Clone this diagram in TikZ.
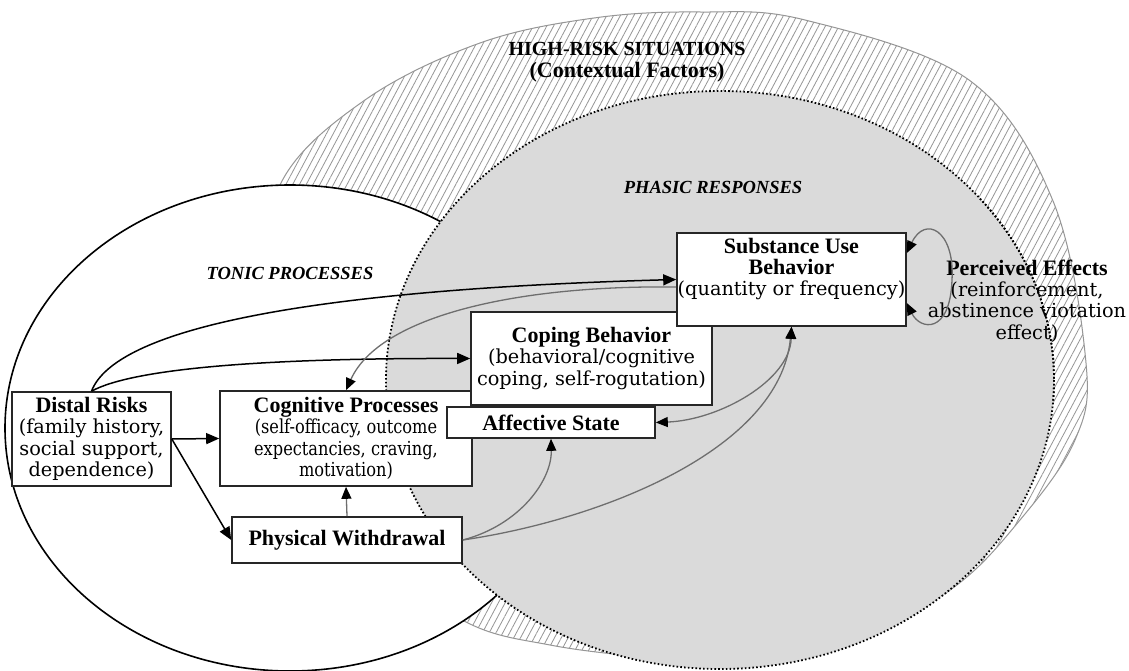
\documentclass[tikz,border=0pt]{standalone}
\usepackage{fontspec}
\usepackage{graphicx}
\setmainfont{DejaVu Serif}
\newfontfamily\timesfam{Liberation Serif}
\usetikzlibrary{arrows.meta,patterns.meta}
\definecolor{phasic}{RGB}{218,218,218}
\definecolor{hatchc}{RGB}{150,150,150}
\definecolor{linegray}{RGB}{110,110,110}
\newcommand{\myreg}{\fontsize{19.3}{21.3}\selectfont}
\newcommand{\mybold}[1]{{\timesfam\bfseries\fontsize{22}{21.3}\selectfont #1}}
\newcommand{\narrow}[1]{\scalebox{0.84}[1]{#1}}
\tikzset{
  box/.style={draw=black!85,line width=1.6pt,fill=white,inner sep=0pt,align=center,font=\myreg},
  btip/.tip={Triangle[length=13pt,width=11pt]},
  gtip/.tip={Triangle[length=12pt,width=10pt,color=black]},
  blk/.style={draw=black,line width=1.5pt,-btip},
  gry/.style={draw=linegray,line width=1.3pt,-gtip},
  gry2/.style={draw=linegray,line width=1.3pt,gtip-gtip},
  head/.style={font=\timesfam\bfseries\itshape\fontsize{18.5}{20}\selectfont},
  dots/.style={draw=black,line width=1.8pt,dash pattern=on 1.6pt off 2.2pt},
}
\begin{document}
\begin{tikzpicture}[x=1pt,y=-1pt]
\fill[white] (0,0) rectangle (1129,671);
\useasboundingbox (0,0) rectangle (1129,671);
% high-risk (hatched)
\draw[draw=hatchc,line width=1pt,pattern={Lines[angle=62,distance=6pt,line width=0.8pt]},pattern color=hatchc]
  plot[smooth cycle,tension=0.6] coordinates {(281,183) (365,100) (480,43) (594,18) (700,12) (805,20) (969,80) (1053,201) (1086,363) (1075,440) (1020,520) (950,590) (840,646) (720,662) (643,657) (550,645) (468,623) (380,560) (300,450) (265,300)};
% tonic (white)
\draw[fill=white,draw=black,line width=1.6pt] (290,428) ellipse [x radius=285,y radius=243];
% phasic (gray, dotted)
\fill[phasic] (720,380) ellipse [x radius=334,y radius=289];
\draw[dots] (720,380) ellipse [x radius=334,y radius=289];
% labels
\node[font=\timesfam\bfseries\fontsize{20}{22}\selectfont] (hr) at (627,49) {HIGH-RISK SITUATIONS};
\node[font=\timesfam\bfseries\fontsize{22}{22}\selectfont] (cf) at (627,72) {(Contextual Factors)};
\node[head] (ph) at (713,187) {PHASIC RESPONSES};
\node[head] (tp) at (290,273) {TONIC PROCESSES};
% boxes
\node[box,minimum width=159pt,minimum height=94pt] (distal) at (91.5,439) {\mybold{Distal Risks}\\(family history,\\social support,\\dependence)};
\node[box,minimum width=252pt,minimum height=95pt] (cog) at (346,438.5) {\mybold{Cognitive Processes}\\\narrow{(self-officacy, outcome}\\\narrow{expectancies, craving,}\\\narrow{motivation)}};
\node[box,minimum width=230pt,minimum height=46pt] (phys) at (347,540) {\mybold{Physical Withdrawal}};
\node[box,minimum width=241pt,minimum height=93pt] (coping) at (591.5,358.5) {\mybold{Coping Behavior}\\(behavioral/cognitive\\coping, self-rogutation)};
\node[box,minimum width=208pt,minimum height=31pt] (aff) at (551,422.5) {\mybold{Affective State}};
\node[box,minimum width=229pt,minimum height=93pt] (su) at (791.5,279.5) {\mybold{Substance Use}\\\mybold{Behavior}\\(quantity or frequency)\\[4pt]};
\node[align=center,font=\myreg,inner sep=0pt] (pe) at (1027,301) {\mybold{Perceived Effects}\\(reinforcement,\\abstinence viotation\\effect)};
\begin{scope}
  \clip (960,200) rectangle (1129,400);
  \draw[dots] (720,380) ellipse [x radius=334,y radius=289];
\end{scope}
% connectors
\draw[blk] (distal.east) -- (cog.west);
\draw[blk] (distal.east) -- (phys.west);
\draw[blk] (distal.north) .. controls (115,330) and (300,290) .. (su.west);
\draw[blk] (distal.north) .. controls (130,370) and (250,358) .. (coping.west);
\draw[gry] (su.west |- 0,287) .. controls (520,285) and (380,315) .. (cog.north);
\draw[gry2] (aff.east) .. controls (720,420) and (790,380) .. (su.south);
\draw[gry] (phys.east) .. controls (600,520) and (780,450) .. (su.south);
\draw[gry] (phys.east) .. controls (520,525) and (552,480) .. (aff.south);
\draw[gry] (phys.north) -- (cog.south);
\draw[gry2] (su.east |- 0,253) .. controls (925,215) and (955,230) .. (952,280) .. controls (950,335) and (920,330) .. (su.east |- 0,303);
\end{tikzpicture}
\end{document}
